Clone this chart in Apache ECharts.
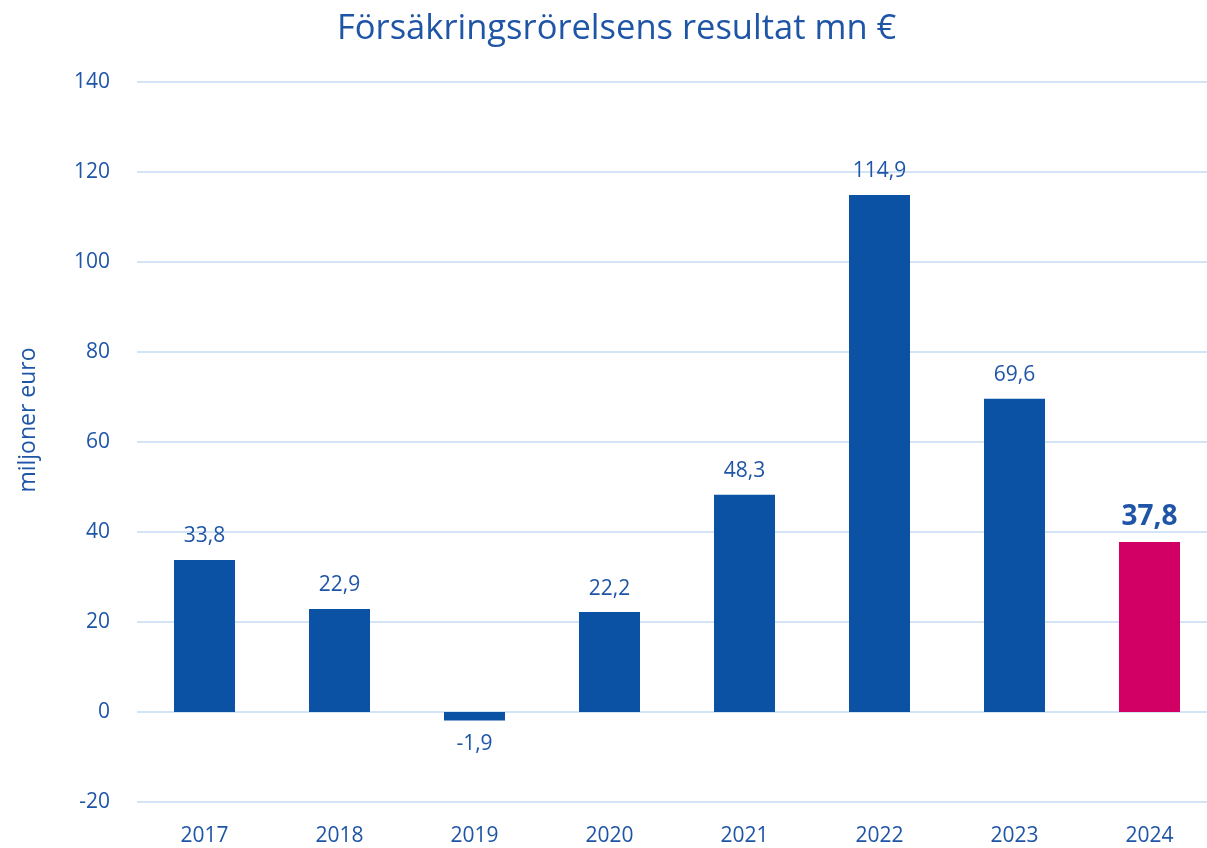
<!DOCTYPE html>
<html>
<head>
<meta charset="utf-8">
<script src="https://cdn.jsdelivr.net/npm/echarts@6/dist/echarts.min.js"></script>
<style>
  html, body { margin: 0; padding: 0; background: #fff; }
  #chart { width: 1207px; height: 848px; }
</style>
</head>
<body>
<div id="chart"></div>
<script>
const years = ['2017', '2018', '2019', '2020', '2021', '2022', '2023', '2024'];
const values = [33.8, 22.9, -1.9, 22.2, 48.3, 114.9, 69.6, 37.8];
const labels = ['33,8', '22,9', '-1,9', '22,2', '48,3', '114,9', '69,6', '37,8'];

const blue = '#0B51A4';
const pink = '#D20064';
const textColor = '#1F55A6';
const font = '"Open Sans", "Noto Sans", sans-serif';

const barData = values.map((v, i) => {
  const last = i === values.length - 1;
  return {
    value: v,
    itemStyle: { color: last ? pink : blue },
    label: {
      formatter: labels[i],
      fontSize: last ? 28 : 21,
      fontWeight: last ? 'bold' : 'normal',
      distance: last ? 11 : 13,
      position: v < 0 ? 'bottom' : 'top'
    }
  };
});

const chart = echarts.init(document.getElementById('chart'));
chart.setOption({
  animation: false,
  textStyle: { fontFamily: font, color: textColor },
  title: {
    text: 'Försäkringsrörelsens resultat mn €',
    left: 332,
    top: 7,
    textStyle: { fontFamily: font, fontSize: 34.5, fontWeight: 'normal', color: textColor }
  },
  // y-axis name placed by hand so it sits like the original
  graphic: [{
    type: 'text',
    x: 28,
    y: 420,
    rotation: Math.PI / 2,
    style: {
      text: 'miljoner euro',
      fill: textColor,
      font: '23px ' + font,
      textAlign: 'center',
      textVerticalAlign: 'middle'
    }
  }],
  grid: { left: 137, top: 82, bottom: 46, right: -10, outerBoundsMode: 'none' },
  xAxis: {
    type: 'category',
    data: years,
    position: 'bottom',
    axisLine: { show: false },
    axisTick: { show: false },
    axisLabel: { margin: 24, fontSize: 21, color: textColor, fontFamily: font }
  },
  yAxis: {
    type: 'value',
    min: -20,
    max: 140,
    interval: 20,
    axisLine: { show: false },
    axisTick: { show: false },
    axisLabel: { margin: 27, fontSize: 21, color: textColor, fontFamily: font },
    splitLine: { lineStyle: { color: '#D3E4F6', width: 2 } }
  },
  series: [{
    type: 'bar',
    data: barData,
    barWidth: 61,
    label: { show: true, color: textColor, fontFamily: font }
  }]
});
</script>
</body>
</html>
